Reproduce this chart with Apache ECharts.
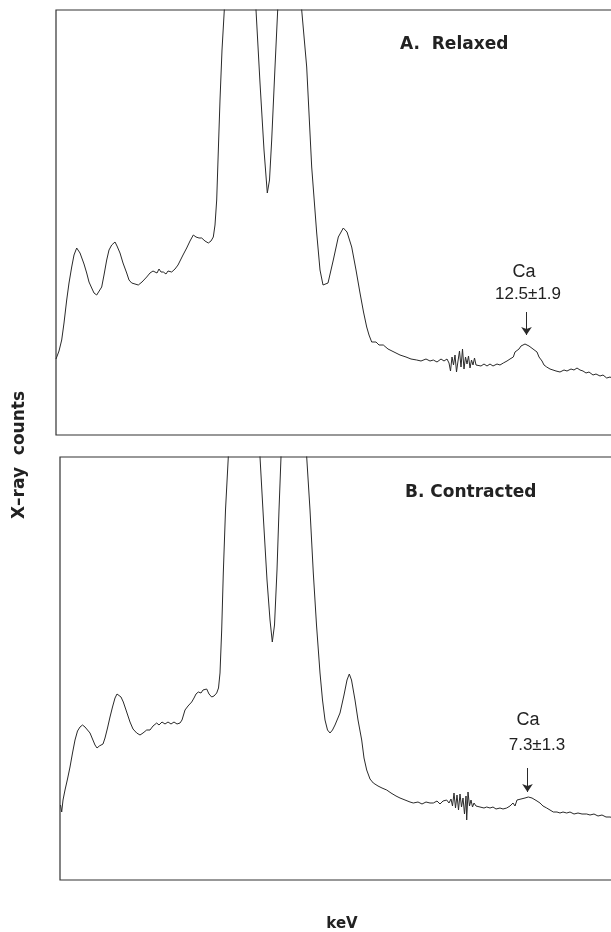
<!DOCTYPE html>
<html>
<head>
<meta charset="utf-8">
<script src="https://cdn.jsdelivr.net/npm/echarts@6/dist/echarts.min.js"></script>
<style>
  html, body { margin: 0; padding: 0; background: #fff; }
  #chart { width: 611px; height: 932px; }
</style>
</head>
<body>
<div id="chart"></div>
<script>
// spectrum A (relaxed) - channel / counts
const chanA = [0, 1, 3, 5.7, 8, 10.7, 13, 15.7, 18, 20.7, 22.5, 24, 25.7, 28, 30.7, 33, 35.7, 38, 40.7, 42.5, 45.7, 48, 50.7, 53, 55.7, 59, 61, 64, 67, 70.7, 73, 75.7, 79, 82.3, 86, 90.7, 94, 97, 99, 101, 103, 105, 107.3, 110, 112, 115.7, 119, 122, 124, 127, 130.7, 134, 137.3, 140, 143, 145.7, 149, 152.3, 155, 157.3, 159, 160.7, 162.5, 164, 166, 168.3, 175, 184, 194, 200, 204, 208, 211.3, 213.5, 215.7, 219, 221.7, 226, 233, 240, 245.7, 250.7, 255.7, 260.7, 264, 267, 269, 272, 277.3, 282.3, 287.3, 291, 295.7, 300, 304, 307.5, 310.7, 313, 315.7, 320, 323, 327.3, 332, 338, 344, 350, 355, 360.7, 365, 370, 374, 377.3, 381, 385, 388, 391, 393, 394.5, 396, 397.5, 399, 400.5, 402, 403.5, 405, 406.5, 408, 409.5, 411, 412.5, 414, 415.5, 417, 418.5, 420, 422, 425, 428, 431, 434, 437, 441, 444, 447.3, 451, 454, 457.3, 459, 461, 463, 465, 467, 469, 471, 473, 475, 477, 479, 481, 483, 486, 488, 490.7, 494, 497, 500, 504, 508, 511, 515, 518, 521, 524, 527, 530, 533, 537, 540, 544, 547, 550.7, 554, 558, 562];
const countsA = [76, 77, 84, 95, 112, 135, 152, 168, 180, 187, 185, 182, 180, 171, 162, 153, 147, 142, 140, 142, 148, 160, 175, 185, 190, 193, 189, 182, 172, 162, 155, 152, 151, 150, 153, 158, 162, 164, 165, 162, 166, 163, 163, 161, 164, 163, 166, 170, 172, 180, 187, 194, 200, 198, 197, 197, 194, 192, 194, 198, 210, 235, 290, 335, 385, 425, 900, 1100, 800, 425, 352, 285, 242, 255, 295, 368, 425, 800, 1000, 800, 425, 368, 268, 202, 165, 150, 148, 152, 175, 198, 207, 203, 188, 165, 142, 123, 108, 100, 93, 93, 90, 90, 86, 83, 80, 78, 76, 75, 74, 76, 74, 75, 73, 76, 74, 76, 72, 64, 78, 70, 80, 63, 74, 84, 68, 86, 66, 78, 71, 79, 67, 75, 70, 77, 70, 72, 69, 71, 69, 71, 69, 71, 70, 72, 74, 76, 78, 83, 85, 86, 89, 88, 91, 90, 89, 88, 86, 84, 83, 78, 74, 70, 68, 66, 65, 64, 63, 65, 64, 66, 65, 67, 65, 64, 62, 63, 60, 61, 59, 60, 57, 58, 56, 55];

// spectrum B (contracted)
const chanB = [0.5, 1.7, 3, 5, 7.5, 10, 12.5, 15, 17.5, 20, 22.5, 25, 27.5, 30, 32.5, 35, 37, 39.3, 41, 43, 45, 47.5, 50, 52.5, 55, 57, 59, 61, 63.3, 66, 70, 73, 76.7, 80, 83, 86.7, 90, 93, 96.7, 99, 102, 105, 108, 111, 114, 117, 120, 122, 125, 128, 131.7, 134, 136, 138.3, 141, 143, 146.7, 149, 151.7, 154, 156.7, 158.5, 160, 161.7, 163.3, 165.5, 168.3, 176, 185, 195, 200, 203.5, 207, 210, 212.3, 214.5, 217, 219, 221, 227, 234, 241, 246.7, 250, 253.3, 256.5, 260, 262.5, 265, 267.5, 270, 272.5, 275, 280, 284, 287, 289.3, 291.5, 295, 298, 301.7, 304, 306.7, 310, 313.3, 318, 322, 326.7, 331, 336, 340, 345, 350, 353.3, 358, 362, 366, 370, 373.3, 377, 380, 383, 386.7, 389, 391, 392.5, 394, 395.5, 397, 398.5, 400, 401.5, 403, 404.5, 406, 406.7, 408, 409.5, 411, 412.5, 414, 416, 418, 420, 422, 424, 426.7, 430, 433, 436, 440, 443, 446.7, 450, 453, 455, 457, 459, 461, 463, 465, 467, 468.3, 470, 472, 474, 477, 480, 483, 486.7, 490, 493.3, 497, 500, 503, 506.7, 510, 514, 518, 522, 526.7, 530, 534, 538, 542, 546, 550, 554, 558];
const countsB = [75, 68, 80, 90, 101, 113, 127, 140, 149, 153, 155, 153, 150, 147, 141, 135, 132, 134, 132, 136, 142, 152, 163, 173, 182, 186, 187, 183, 178, 170, 158, 151, 147, 145, 147, 150, 150, 154, 157, 155, 158, 156, 158, 156, 158, 156, 157, 160, 170, 174, 178, 182, 186, 188, 187, 190, 191, 186, 183, 184, 187, 192, 207, 250, 307, 370, 423, 900, 1100, 800, 423, 360, 300, 260, 238, 255, 310, 370, 423, 800, 1000, 800, 423, 370, 307, 255, 207, 180, 160, 150, 147, 150, 155, 167, 185, 200, 206, 200, 180, 160, 140, 122, 110, 101, 97, 94, 92, 90, 87, 84, 82, 80, 78, 77, 78, 76, 78, 77, 77, 79, 76, 79, 80, 77, 81, 74, 87, 72, 85, 70, 86, 73, 82, 66, 84, 60, 88, 74, 80, 73, 77, 74, 76, 73, 75, 72, 73, 72, 73, 71, 72, 71, 72, 74, 77, 74, 80, 79, 81, 79, 82, 80, 83, 81, 82, 80, 79, 77, 74, 72, 70, 68, 68, 67, 68, 67, 68, 66, 67, 66, 66, 65, 66, 64, 65, 63, 63, 62, 62];

const panelLabels = ['A.  Relaxed', 'B. Contracted'];
const caLabels = ['12.5\u00b11.9', '7.3\u00b11.3'];
// Ca arrow: [channel, from count, to count]
const caArrows = [[470.5, 123, 100], [467.5, 112, 88]];

const pairs = (xs, ys) => xs.map((x, i) => [x, ys[i]]);

const chart = echarts.init(document.getElementById('chart'));

const ink = '#2a2a2a';
const hiddenAxis = { show: false };

const arrowMark = (a) => ({
  silent: true,
  symbol: ['none', 'arrow'],
  symbolSize: 8,
  label: { show: false },
  lineStyle: { color: ink, width: 1, type: 'solid' },
  emphasis: { disabled: true },
  data: [[{ coord: [a[0], a[1]] }, { coord: [a[0], a[2]] }]]
});

const option = {
  animation: false,
  backgroundColor: '#fff',
  grid: [
    { left: 56, top: 10, width: 560, height: 425, outerBoundsMode: 'none', show: true, borderColor: '#333', borderWidth: 1.2, backgroundColor: 'transparent' },
    { left: 60, top: 457, width: 560, height: 423, outerBoundsMode: 'none', show: true, borderColor: '#333', borderWidth: 1.2, backgroundColor: 'transparent' }
  ],
  xAxis: [
    { type: 'value', gridIndex: 0, min: 0, max: 560, ...hiddenAxis },
    { type: 'value', gridIndex: 1, min: 0, max: 560, ...hiddenAxis }
  ],
  yAxis: [
    { type: 'value', gridIndex: 0, min: 0, max: 425, ...hiddenAxis },
    { type: 'value', gridIndex: 1, min: 0, max: 423, ...hiddenAxis }
  ],
  series: [
    {
      type: 'line', xAxisIndex: 0, yAxisIndex: 0,
      data: pairs(chanA, countsA),
      showSymbol: false, clip: true,
      lineStyle: { color: ink, width: 1 },
      markLine: arrowMark(caArrows[0])
    },
    {
      type: 'line', xAxisIndex: 1, yAxisIndex: 1,
      data: pairs(chanB, countsB),
      showSymbol: false, clip: true,
      lineStyle: { color: ink, width: 1 },
      markLine: arrowMark(caArrows[1])
    }
  ],
  graphic: [
    { type: 'text', left: 400, top: 36, style: { text: panelLabels[0], font: 'bold 17px "DejaVu Sans"', fill: '#222' } },
    { type: 'text', left: 405, top: 484, style: { text: panelLabels[1], font: 'bold 17px "DejaVu Sans"', fill: '#222' } },
    { type: 'text', x: 524, y: 272, style: { text: 'Ca', font: '18px "Liberation Sans"', fill: '#222', align: 'center', verticalAlign: 'middle' } },
    { type: 'text', x: 528, y: 294, style: { text: caLabels[0], font: '17px "Liberation Sans"', fill: '#222', align: 'center', verticalAlign: 'middle' } },
    { type: 'text', x: 528, y: 720, style: { text: 'Ca', font: '18px "Liberation Sans"', fill: '#222', align: 'center', verticalAlign: 'middle' } },
    { type: 'text', x: 537, y: 745, style: { text: caLabels[1], font: '17px "Liberation Sans"', fill: '#222', align: 'center', verticalAlign: 'middle' } },
    { type: 'text', x: 20, y: 455, rotation: Math.PI / 2, style: { text: 'X\u2013ray  counts', font: 'bold 17px "DejaVu Sans"', fill: '#222', align: 'center', verticalAlign: 'middle' } },
    { type: 'text', x: 342, y: 924, style: { text: 'keV', font: 'bold 15px "DejaVu Sans"', fill: '#222', align: 'center', verticalAlign: 'middle' } }
  ]
};

chart.setOption(option);
</script>
</body>
</html>
